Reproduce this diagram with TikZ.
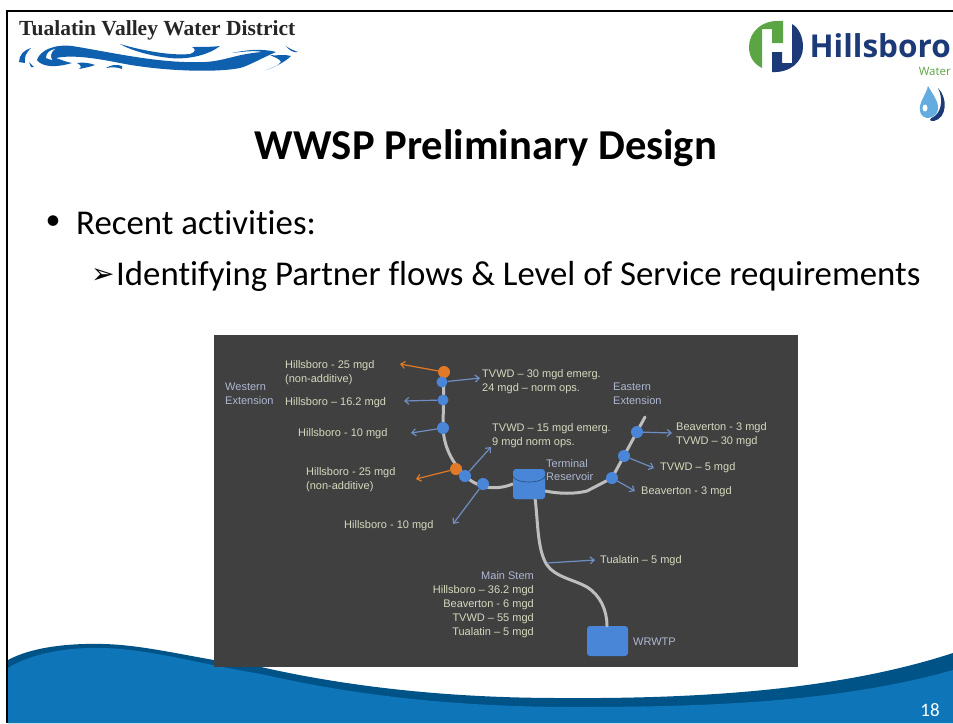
\documentclass[tikz,border=0pt]{standalone}
\usepackage{fontspec}
\setmainfont[Ligatures=CommonOff]{Carlito}
\newfontfamily\lab{Liberation Sans}
\newfontfamily\serifb{Liberation Serif}
\newfontfamily\logof{Open Sans}
\newfontfamily\symf{DejaVu Sans}
\usetikzlibrary{arrows.meta,shapes.geometric}
\definecolor{panel}{HTML}{404040}
\definecolor{pipe}{HTML}{BEBEBE}
\definecolor{jblue}{HTML}{4A86D8}
\definecolor{jorange}{HTML}{E07A28}
\definecolor{flowblue}{HTML}{6F8FC4}
\definecolor{flabel}{HTML}{D6D8BE}
\definecolor{nlabel}{HTML}{AEB8D2}
\definecolor{wavedark}{HTML}{005387}
\definecolor{wavelight}{HTML}{0D75B8}
\definecolor{tvblue}{HTML}{1060B0}
\definecolor{hnavy}{HTML}{1C3A78}
\definecolor{hgreen}{HTML}{5CA544}
\definecolor{droplight}{HTML}{64ACE0}
\tikzset{
  x=1pt,y=-1pt,
  junction/.style={circle,fill=jblue,draw=none,inner sep=0,minimum size=#1},
  junction/.default=11,
  ojunction/.style={circle,fill=jorange,draw=none,inner sep=0,minimum size=12},
  pipeline/.style={draw=pipe,line width=3pt,line cap=round},
  flowarrow/.style={draw=flowblue,line width=1.2pt,-{Straight Barb[length=4pt,width=7pt]}},
  orangearrow/.style={draw=jorange,line width=1.2pt,-{Straight Barb[length=4pt,width=7pt]}},
  flowtext/.style={font=\lab\fontsize{11}{14}\selectfont,text=flabel,inner sep=0,anchor=west,align=left,yshift=-1.5pt},
  nametext/.style={font=\lab\fontsize{11}{13.5}\selectfont,text=nlabel,inner sep=0,anchor=west,align=left,yshift=-1.5pt},
  storebox/.style={fill=jblue,rounded corners=3pt,draw=none},
}
\begin{document}
\begin{tikzpicture}
\useasboundingbox (0,0) rectangle (953,723);
\fill[white] (0,0) rectangle (953,723);
% bottom wave
\fill[wavedark] (8,660) .. controls (30,648) and (65,643) .. (103,644)
  .. controls (150,645) and (200,660) .. (261,667)
  .. controls (340,685) and (440,698) .. (560,698)
  .. controls (700,699) and (840,690) .. (953,653) -- (953,723) -- (8,723) -- cycle;
\fill[wavelight] (8,668) .. controls (30,654) and (65,647) .. (103,648)
  .. controls (150,649) and (200,664) .. (261,674)
  .. controls (340,692) and (440,707) .. (575,707)
  .. controls (710,707) and (840,702) .. (953,670) -- (953,723) -- (8,723) -- cycle;
% frame
\fill[black] (6,10) rectangle (953,12);
\fill[black] (6,10) rectangle (8,723);
% TVWD logo
\node[font=\serifb\bfseries\fontsize{21.5}{24}\selectfont,text=black!85,inner sep=0,anchor=west] (tvtitle) at (19,30) {Tualatin Valley Water District};
\fill[tvblue] (37,60) .. controls (40,50) and (55,44) .. (72,46)
  .. controls (110,52) and (160,64) .. (205,62)
  .. controls (225,61) and (236,54) .. (262,52)
  .. controls (255,50) and (240,52) .. (232,53)
  .. controls (250,49) and (265,49) .. (276,52)
  .. controls (262,58) and (248,66) .. (240,68)
  .. controls (215,73) and (160,71) .. (120,63)
  .. controls (90,57) and (70,55) .. (56,58)
  .. controls (62,60) and (66,62) .. (72,63)
  .. controls (55,68) and (42,67) .. (37,60) -- cycle;
\fill[white] (46,58) .. controls (46,53) and (50,50) .. (55,49) .. controls (51,52) and (50,56) .. (52,60) -- cycle;
\fill[tvblue] (120,44) .. controls (140,50) and (170,56) .. (190,54)
  .. controls (196,52) and (196,49) .. (192,47) .. controls (202,47) and (212,47) .. (220,46)
  .. controls (210,54) and (190,60) .. (170,58) .. controls (150,56) and (130,50) .. (120,44) -- cycle;
\fill[tvblue] (19,62) .. controls (19,55) and (24,50) .. (31,48) .. controls (26,53) and (24,57) .. (25,63) -- cycle;
\fill[tvblue] (29,62) -- (34,67) -- (31,67) -- cycle;
\fill[tvblue] (77,63) .. controls (83,62) and (90,63) .. (95,65) .. controls (90,67) and (84,68) .. (79,69) .. controls (82,67) and (81,65) .. (77,63) -- cycle;
\fill[tvblue] (106,68) .. controls (110,65) and (117,64) .. (122,66) -- (122,69) .. controls (117,67) and (112,67) .. (106,68) -- cycle;
\fill[tvblue] (266,70) .. controls (275,67) and (285,62) .. (291,56) .. controls (285,54) and (278,56) .. (270,55) .. controls (276,58) and (280,59) .. (281,62) .. controls (278,66) and (272,68) .. (266,70) -- cycle;
\fill[tvblue] (286,46) .. controls (290,49) and (293,50) .. (298,52) .. controls (293,53) and (289,50) .. (286,46) -- cycle;
% Hillsboro logo
\fill[hgreen] (783,21) .. controls (762,19) and (749,32) .. (749,47) .. controls (749,57) and (754,64) .. (762,68) -- (762,29) -- (772,29) -- (772,43) -- (783,43) -- cycle;
\fill[hnavy] (792,24) .. controls (799,28) and (803,37) .. (803,47) .. controls (803,62) and (790,73) .. (772,72) -- (772,52) -- (782,52) -- (782,63) -- (792,63) -- cycle;
\node[font=\logof\bfseries\fontsize{31.5}{34}\selectfont,text=hnavy,inner sep=0,anchor=east] (hboro) at (951,46) {Hillsboro};
\node[font=\logof\fontsize{11.5}{12}\selectfont,text=hgreen,inner sep=0,anchor=east] (hwater) at (951,71) {Water};
\fill[hnavy] (938,88) .. controls (948,98) and (947,118) .. (934,121) .. controls (930,121) and (927,120) .. (935,116) .. controls (942,110) and (943,98) .. (938,88) -- cycle;
\fill[droplight] (928,86) .. controls (934,96) and (939,103) .. (938,109) .. controls (937,116) and (931,118) .. (927,118) .. controls (921,117) and (919,112) .. (920,106) .. controls (921,100) and (926,94) .. (928,86) -- cycle;
\fill[white] (925,108) ellipse [x radius=2.5,y radius=3.5];
% slide text
\node[font=\bfseries\fontsize{42.6}{46}\selectfont,text=black,inner sep=0] (title) at (486,148) {WWSP Preliminary Design};
\node[font=\fontsize{30}{36}\selectfont,text=black,inner sep=0] (bull) at (53,223) {•};
\node[font=\fontsize{34.8}{38}\selectfont,text=black,inner sep=0,anchor=west] (b1) at (76,223) {Recent activities:};
\node[font=\symf\fontsize{28}{30}\selectfont,text=black,inner sep=0,anchor=west] (arr) at (91,276) {➢};
\node[font=\fontsize{34.8}{38}\selectfont,text=black,inner sep=0,anchor=west] (b2) at (116,276) {Identifying Partner flows \& Level of Service requirements};
\node[font=\fontsize{19}{20}\selectfont,text=white,inner sep=0] (pageno) at (930,710) {18};
% panel
\fill[panel] (214,335) rectangle (798,667);
% junction positions
\coordinate (wend) at (444,372);
\coordinate (eend) at (645,417);
\node[storebox,minimum width=32,minimum height=30,inner sep=0] (res) at (529,484) {};
\node[storebox,minimum width=41,minimum height=30,inner sep=0] (wrwtp) at (607.5,641) {};
% pipes
\draw[pipeline] (wend) -- (443,428) .. controls (444,445) and (450,460) .. (465,476)
  .. controls (478,488) and (495,491) .. (res.west);
\draw[pipeline] (res.east) ++(0,7) .. controls (560,494) and (575,494) .. (587,491)
  -- (612,478) -- (eend);
\draw[pipeline] (535,498) .. controls (538,520) and (537,550) .. (547,565)
  .. controls (555,577) and (575,580) .. (587,587) .. controls (600,595) and (607,610) .. (wrwtp.north -| 607,626);
% reservoir cylinder
\node[storebox,minimum width=32,minimum height=22,inner sep=0] (resb) at (529,488) {};
\fill[jblue] (529,476) ellipse [x radius=16,y radius=7];
\draw[jblue!55!black,line width=.6pt] (513,476) arc [start angle=180,end angle=360,x radius=16,y radius=-6];
% junctions
\node[ojunction] (o1) at (444,372) {};
\node[junction] (j1) at (442,382) {};
\node[junction] (j2) at (443,400) {};
\node[junction=12] (j3) at (443,428) {};
\node[ojunction] (o2) at (456,469) {};
\node[junction=12] (j4) at (465,476) {};
\node[junction=12] (j5) at (483,484) {};
\node[junction=12] (e1) at (612,478) {};
\node[junction=12] (e2) at (624,456) {};
\node[junction=12] (e3) at (637,432) {};
% free ends
\coordinate (ao1) at (400,364);
\coordinate (aj1) at (480,378);
\coordinate (aj2) at (404,401);
\coordinate (aj3) at (411,433);
\coordinate (ao2) at (416,479);
\coordinate (aj4) at (491,447);
\coordinate (aj5) at (453,524);
\coordinate (ae3) at (672,433);
\coordinate (ae2) at (654,468);
\coordinate (ae1) at (635,491);
\coordinate (stem) at (547,563);
\coordinate (atu) at (595,560);
% arrows
\draw[orangearrow] (o1) -- (ao1);
\draw[flowarrow] (j1) -- (aj1);
\draw[flowarrow] (j2) -- (aj2);
\draw[flowarrow] (j3) -- (aj3);
\draw[orangearrow] (o2) -- (ao2);
\draw[flowarrow] (j4) -- (aj4);
\draw[flowarrow] (j5) -- (aj5);
\draw[flowarrow] (e3) -- (ae3);
\draw[flowarrow] (e2) -- (ae2);
\draw[flowarrow] (e1) -- (ae1);
\draw[flowarrow] (stem) -- (atu);
% labels
\node[flowtext] (l1) at (285,371) {Hillsboro - 25 mgd\\(non-additive)};
\node[nametext] (l2) at (225,392.5) {Western\\Extension};
\node[flowtext] (l3) at (285,401) {Hillsboro – 16.2 mgd};
\node[flowtext] (l4) at (298,432) {Hillsboro - 10 mgd};
\node[flowtext] (l5) at (306,478) {Hillsboro - 25 mgd\\(non-additive)};
\node[flowtext] (l6) at (344,524) {Hillsboro - 10 mgd};
\node[flowtext] (l7) at (482,380) {TVWD – 30 mgd emerg.\\24 mgd – norm ops.};
\node[nametext] (l8) at (613,392.5) {Eastern\\Extension};
\node[flowtext] (l9) at (492,434) {TVWD – 15 mgd emerg.\\9 mgd norm ops.};
\node[nametext] (l10) at (546,468.5) {Terminal\\Reservoir};
\node[flowtext] (l11) at (676,433) {Beaverton - 3 mgd\\TVWD – 30 mgd};
\node[flowtext] (l12) at (660,466) {TVWD – 5 mgd};
\node[flowtext] (l13) at (641,490) {Beaverton - 3 mgd};
\node[flowtext] (l14) at (600,559) {Tualatin – 5 mgd};
\node[nametext,anchor=east] (l15) at (534,574) {Main Stem};
\node[flowtext,anchor=north east,align=right] (l16) at (534,584) {Hillsboro – 36.2 mgd\\Beaverton - 6 mgd\\TVWD – 55 mgd\\Tualatin – 5 mgd};
\node[nametext] (l17) at (633,640) {WRWTP};
\end{tikzpicture}
\end{document}
